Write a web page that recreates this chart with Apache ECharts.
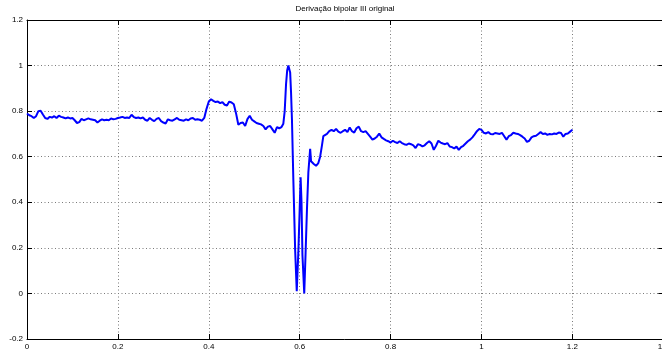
<!DOCTYPE html>
<html>
<head>
<meta charset="utf-8">
<title>Derivação bipolar III original</title>
<script src="https://cdn.jsdelivr.net/npm/echarts@6/dist/echarts.min.js"></script>
<style>
  html, body { margin: 0; padding: 0; background: #fff; }
  #chart { width: 662px; height: 351px; }
</style>
</head>
<body>
<div id="chart"></div>
<script>
// Lead III trace: sample times (ms) and amplitudes
const timeMs = [
  0, 5, 10, 15, 20, 25, 30, 35, 40, 45, 50, 55, 60, 65, 70, 75, 80, 85, 90, 95,
  100, 105, 110, 115, 120, 125, 130, 135, 140, 145, 150, 155, 160, 165, 170, 175, 180, 185, 190, 195,
  200, 205, 210, 215, 220, 225, 230, 235, 240, 245, 250, 255, 260, 265, 270, 275, 280, 285, 290, 295,
  300, 305, 310, 315, 320, 325, 330, 335, 340, 345, 350, 355, 360, 365, 370, 375, 380, 385, 390, 395,
  400, 405, 410, 415, 420, 425, 430, 435, 440, 445, 450, 455, 460, 465, 470, 475, 480, 485, 490, 495,
  500, 505, 510, 515, 520, 525, 530, 535, 540, 545, 550, 555, 560,
  564, 567, 570, 572.5, 575, 577, 579, 581, 583, 586, 590, 593.5, 597, 599.5, 602, 604, 606, 610,
  613, 616, 619, 623, 625, 628, 631, 636, 641, 645, 649, 652,
  655, 660, 665, 670, 675, 680, 685, 690, 695, 700, 705, 710, 715, 720, 725, 730, 735, 740, 745, 750,
  755, 760, 765, 770, 775, 780, 785, 790, 795, 800, 805, 810, 815, 820, 825, 830, 835, 840, 845, 850,
  855, 860, 865, 870, 875, 880, 885, 890, 895, 900, 905, 910, 915, 920, 925, 930, 935, 940, 945, 950,
  955, 960, 965, 970, 975, 980, 985, 990, 995, 1000, 1005, 1010, 1015, 1020, 1025, 1030, 1035, 1040, 1045, 1050,
  1055, 1060, 1065, 1070, 1075, 1080, 1085, 1090, 1095, 1100, 1105, 1110, 1115, 1120, 1125, 1130, 1135, 1140, 1145, 1150,
  1155, 1160, 1165, 1170, 1175, 1180, 1185, 1190, 1195, 1200
];

const leadIII = [
  0.790, 0.782, 0.778, 0.770, 0.778, 0.800, 0.802, 0.785, 0.770, 0.766, 0.775, 0.772, 0.778, 0.770, 0.780, 0.775, 0.772, 0.768, 0.772, 0.768,
  0.770, 0.760, 0.748, 0.752, 0.766, 0.760, 0.764, 0.768, 0.764, 0.762, 0.760, 0.750, 0.758, 0.764, 0.760, 0.762, 0.760, 0.768, 0.764, 0.766,
  0.770, 0.772, 0.775, 0.770, 0.772, 0.770, 0.784, 0.774, 0.770, 0.772, 0.768, 0.772, 0.762, 0.758, 0.770, 0.762, 0.756, 0.766, 0.770, 0.756,
  0.750, 0.746, 0.764, 0.760, 0.758, 0.764, 0.770, 0.762, 0.760, 0.758, 0.764, 0.760, 0.768, 0.770, 0.762, 0.764, 0.762, 0.758, 0.770, 0.810,
  0.842, 0.852, 0.845, 0.840, 0.842, 0.835, 0.840, 0.828, 0.825, 0.842, 0.838, 0.830, 0.790, 0.740, 0.748, 0.750, 0.735, 0.765, 0.780, 0.762,
  0.755, 0.748, 0.745, 0.742, 0.735, 0.720, 0.732, 0.735, 0.720, 0.705, 0.730, 0.725, 0.730,
  0.745, 0.800, 0.920, 0.980, 1.000, 0.995, 0.970, 0.880, 0.760, 0.500, 0.190, 0.010, 0.180, 0.340, 0.510, 0.400, 0.170, 0.000,
  0.180, 0.370, 0.530, 0.635, 0.580, 0.575, 0.568, 0.560, 0.572, 0.600, 0.650, 0.690,
  0.695, 0.700, 0.712, 0.718, 0.712, 0.722, 0.710, 0.705, 0.712, 0.718, 0.708, 0.728, 0.712, 0.706, 0.725, 0.732, 0.712, 0.708, 0.712, 0.700,
  0.688, 0.675, 0.680, 0.688, 0.702, 0.685, 0.678, 0.672, 0.668, 0.662, 0.670, 0.664, 0.660, 0.668, 0.660, 0.655, 0.652, 0.658, 0.655, 0.650,
  0.638, 0.655, 0.652, 0.645, 0.650, 0.660, 0.668, 0.658, 0.630, 0.648, 0.670, 0.662, 0.658, 0.655, 0.660, 0.645, 0.642, 0.636, 0.645, 0.630,
  0.642, 0.648, 0.658, 0.668, 0.675, 0.685, 0.698, 0.712, 0.722, 0.718, 0.705, 0.702, 0.708, 0.700, 0.698, 0.704, 0.702, 0.700, 0.705, 0.690,
  0.675, 0.690, 0.695, 0.705, 0.702, 0.700, 0.695, 0.688, 0.680, 0.665, 0.670, 0.685, 0.690, 0.692, 0.700, 0.708, 0.700, 0.702, 0.696, 0.700,
  0.698, 0.702, 0.700, 0.706, 0.704, 0.688, 0.700, 0.702, 0.710, 0.718
];

const chartTitle = 'Derivação bipolar III original';
const xRange = { min: 0, max: 1.4, step: 0.2 };
const yRange = { min: -0.2, max: 1.2, step: 0.2 };

const FONT = '"Liberation Sans", Arial, Helvetica, sans-serif';
const series = timeMs.map((t, i) => [t / 1000, leadIII[i]]);

const frameLine = { show: true, onZero: false, lineStyle: { color: '#000', width: 1 } };
const innerTick = { show: true, inside: true, length: 5, lineStyle: { color: '#000', width: 1 } };
const dotted = { show: true, lineStyle: { color: '#7a7a7a', width: 1, type: [1, 2.5] } };
const tickText = { color: '#000', fontSize: 8, fontFamily: FONT };

const chart = echarts.init(document.getElementById('chart'), null, { renderer: 'canvas' });
chart.setOption({
  animation: false,
  backgroundColor: '#fff',
  title: {
    text: chartTitle,
    left: 345,
    top: 5,
    padding: 0,
    textAlign: 'center',
    textStyle: { fontSize: 8, fontWeight: 'normal', color: '#000', fontFamily: FONT }
  },
  grid: { left: 27, right: -1.3, top: 20, bottom: 12, containLabel: false, outerBoundsMode: 'none' },
  xAxis: [
    {
      type: 'value', position: 'bottom', min: xRange.min, max: xRange.max, interval: xRange.step,
      axisLine: frameLine, axisTick: innerTick,
      axisLabel: Object.assign({ margin: 4, showMinLabel: true, showMaxLabel: true }, tickText),
      splitLine: dotted
    },
    {
      type: 'value', position: 'top', min: xRange.min, max: xRange.max, interval: xRange.step,
      axisLine: frameLine, axisTick: innerTick, axisLabel: { show: false }, splitLine: { show: false }
    }
  ],
  yAxis: [
    {
      type: 'value', position: 'left', min: yRange.min, max: yRange.max, interval: yRange.step,
      axisLine: frameLine, axisTick: innerTick,
      axisLabel: Object.assign({ margin: 4, showMinLabel: true, showMaxLabel: true }, tickText),
      splitLine: dotted
    },
    {
      type: 'value', position: 'right', min: yRange.min, max: yRange.max, interval: yRange.step,
      axisLine: frameLine, axisTick: innerTick, axisLabel: { show: false }, splitLine: { show: false }
    }
  ],
  series: [
    {
      type: 'line',
      xAxisIndex: 0,
      yAxisIndex: 0,
      data: series,
      showSymbol: false,
      symbol: 'none',
      lineStyle: { color: '#0000ff', width: 2 },
      emphasis: { disabled: true }
    }
  ]
});
</script>
</body>
</html>
